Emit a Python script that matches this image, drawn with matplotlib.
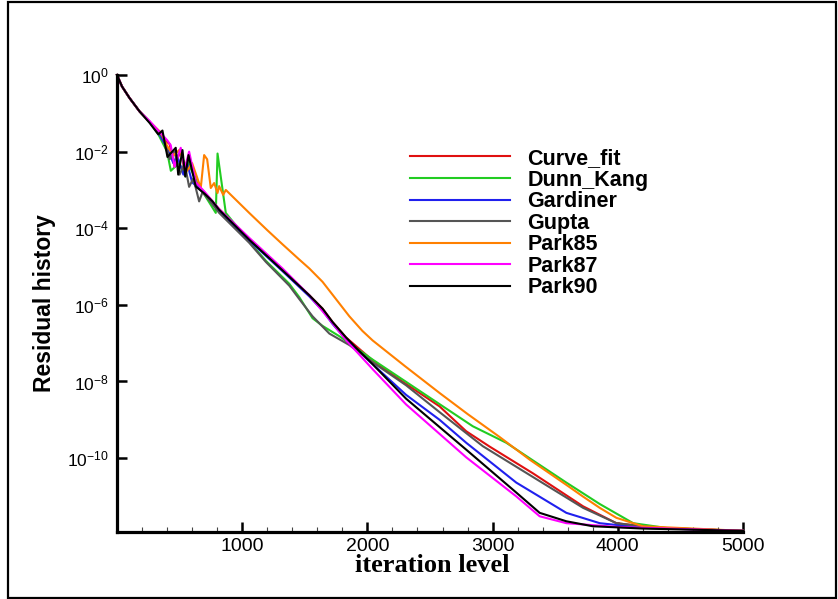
import numpy as np
import matplotlib.pyplot as plt
from matplotlib.patches import Rectangle
from matplotlib.ticker import MultipleLocator, NullLocator, LogFormatterMathtext

plt.rcParams['font.family'] = ['Liberation Sans', 'DejaVu Sans']

# --- data: iteration level and log10(residual) ---
series_names = ["Curve_fit", "Dunn_Kang", "Gardiner", "Gupta", "Park85", "Park87", "Park90"]
series_colors = ["#e01010", "#22cc22", "#2020ee", "#555555", "#ff8000", "#ff00ff", "#000000"]

curve_fit_x = [0, 40, 100, 180, 260, 330, 380, 420, 460, 509, 540, 580, 640, 720, 816,
               1056, 1322, 1536, 1642, 1722, 1829, 2042, 2256, 2576, 2789, 2976, 3323, 3723, 3989, 4300, 5000]
curve_fit_log = [0, -0.3, -0.6, -0.95, -1.22, -1.5, -1.7, -1.8, -2.4, -1.96, -2.5, -2.2, -2.85, -3.15, -3.5,
                 -4.28, -5.1, -5.75, -6.1, -6.45, -6.85, -7.45, -7.95, -8.65, -9.3, -9.7, -10.4, -11.26, -11.7, -11.82, -11.9]

dunn_kang_x = [0, 40, 100, 180, 260, 330, 400, 430, 496, 549, 560, 640, 789, 803, 869,
               1056, 1189, 1376, 1456, 1562, 1642, 1776, 2042, 2442, 2842, 3109, 3589, 3856, 4123, 4400, 5000]
dunn_kang_log = [0, -0.3, -0.6, -0.95, -1.22, -1.55, -2.0, -2.5, -2.3, -2.65, -2.22, -2.82, -3.6, -2.05, -3.6,
                 -4.35, -4.85, -5.45, -5.8, -6.35, -6.55, -6.82, -7.43, -8.3, -9.17, -9.6, -10.64, -11.2, -11.7, -11.83, -11.9]

gardiner_x = [0, 40, 100, 180, 260, 330, 400, 450, 480, 530, 560, 600, 700, 816,
              1056, 1322, 1536, 1642, 1722, 1829, 2042, 2309, 2576, 2789, 3189, 3589, 3856, 4200, 5000]
gardiner_log = [0, -0.3, -0.6, -0.95, -1.22, -1.5, -1.9, -2.3, -2.1, -2.6, -2.3, -2.8, -3.1, -3.55,
                -4.32, -5.12, -5.78, -6.15, -6.5, -6.9, -7.55, -8.35, -9.0, -9.6, -10.64, -11.43, -11.7, -11.82, -11.9]

gupta_x = [0, 40, 100, 180, 260, 330, 376, 420, 460, 500, 540, 576, 610, 656, 683, 720, 816,
           1056, 1189, 1376, 1456, 1562, 1696, 1856, 2042, 2309, 2576, 2922, 3300, 3723, 3989, 4300, 5000]
gupta_log = [0, -0.3, -0.6, -0.95, -1.22, -1.5, -1.65, -2.2, -2.0, -2.6, -2.3, -2.92, -2.7, -3.3, -3.06, -3.2, -3.6,
             -4.38, -4.88, -5.5, -5.85, -6.3, -6.75, -7.05, -7.5, -8.1, -8.8, -9.69, -10.45, -11.3, -11.7, -11.82, -11.9]

park85_x = [0, 40, 100, 180, 260, 350, 400, 450, 500, 560, 600, 669, 696, 720, 749, 776, 803, 816, 848, 869, 922,
            1056, 1200, 1322, 1450, 1536, 1642, 1749, 1856, 1960, 2042, 2300, 2576, 2800, 3056, 3300, 3589,
            3720, 3856, 3989, 4200, 5000]
park85_log = [0, -0.3, -0.6, -0.95, -1.22, -1.5, -1.85, -2.1, -1.95, -2.5, -2.3, -2.95, -2.09, -2.2, -2.95, -2.82, -3.08, -2.9, -3.13, -3.0, -3.17,
              -3.6, -4.05, -4.42, -4.8, -5.05, -5.4, -5.85, -6.3, -6.68, -6.93, -7.6, -8.3, -8.85, -9.45, -10.05, -10.7,
              -11.0, -11.3, -11.56, -11.78, -11.9]

park87_x = [0, 40, 100, 180, 260, 330, 400, 429, 460, 509, 540, 576, 629, 700, 816,
            1056, 1322, 1536, 1722, 1829, 2042, 2309, 2789, 3189, 3376, 3589, 4000, 5000]
park87_log = [0, -0.3, -0.6, -0.95, -1.2, -1.45, -1.7, -1.83, -2.4, -1.9, -2.45, -2.0, -2.8, -3.05, -3.5,
              -4.25, -5.05, -5.75, -6.48, -6.92, -7.68, -8.6, -9.98, -11.0, -11.52, -11.7, -11.8, -11.9]

park90_x = [0, 40, 100, 180, 260, 330, 363, 403, 469, 489, 523, 545, 571, 629, 700, 763, 816,
            1056, 1322, 1536, 1642, 1722, 1829, 1909, 2042, 2309, 2789, 3189, 3376, 3589, 3800, 4200, 5000]
park90_log = [0, -0.3, -0.6, -0.95, -1.25, -1.55, -1.45, -2.14, -1.9, -2.6, -1.96, -2.65, -2.09, -2.91, -3.1, -3.3, -3.52,
              -4.3, -5.1, -5.75, -6.1, -6.45, -6.85, -7.12, -7.55, -8.45, -9.78, -10.9, -11.43, -11.65, -11.78, -11.84, -11.9]

series_x = [curve_fit_x, dunn_kang_x, gardiner_x, gupta_x, park85_x, park87_x, park90_x]
series_log = [curve_fit_log, dunn_kang_log, gardiner_log, gupta_log, park85_log, park87_log, park90_log]

W, H = 838, 599
fig = plt.figure(figsize=(W / 100, H / 100), dpi=100)
ax = fig.add_axes([117 / W, 1 - 532 / H, (743 - 117) / W, (532 - 75) / H])

for name, color, xs, ls in zip(series_names, series_colors, series_x, series_log):
    ax.plot(xs, 10.0 ** np.array(ls), color=color, lw=1.5, label=name, clip_on=False)

ax.set_yscale('log')
ax.set_xlim(0, 5000)
ax.set_ylim(10 ** -11.93, 1.0)
ax.set_yticks([1e0, 1e-2, 1e-4, 1e-6, 1e-8, 1e-10])
ax.yaxis.set_major_formatter(LogFormatterMathtext())
ax.yaxis.set_minor_locator(NullLocator())
ax.set_xticks([1000, 2000, 3000, 4000, 5000])
ax.xaxis.set_minor_locator(MultipleLocator(200))

for s in ['top', 'right']:
    ax.spines[s].set_visible(False)
for s in ['left', 'bottom']:
    ax.spines[s].set_linewidth(2.3)

ax.tick_params(which='major', direction='in', length=7.5, width=1.8, color='black')
ax.tick_params(which='minor', direction='in', length=3.5, width=0.8, color='#444444')
ax.tick_params(axis='x', which='major', labelsize=14, pad=4)
ax.tick_params(axis='y', which='major', labelsize=12.5, pad=6)

leg = ax.legend(loc='upper left', bbox_to_anchor=(410 / W, 1 - 148 / H), bbox_transform=fig.transFigure,
                frameon=False, prop={'weight': 'bold', 'size': 15.5}, handlelength=4.65,
                handletextpad=0.8, labelspacing=0.025, borderpad=0, borderaxespad=0)

fig.text(45 / W, 1 - 303 / H, 'Residual history', rotation=90, fontsize=16.5, fontweight='bold',
         ha='center', va='center')
fig.text(432 / W, 1 - 565 / H, 'iteration level', family='Liberation Serif', fontsize=19,
         fontweight='bold', ha='center', va='center')

fig.patches.append(Rectangle((8 / W, 1 - 597.5 / H), (836 - 8) / W, (597.5 - 2) / H,
                             transform=fig.transFigure, fill=False, lw=1.6, ec='black'))

fig.savefig('out.png', dpi=100)
